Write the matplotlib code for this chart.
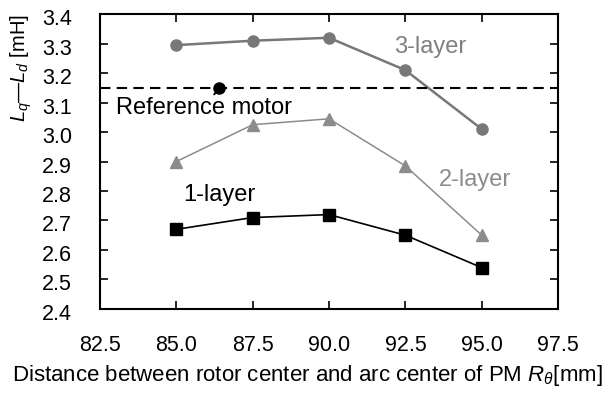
import matplotlib.pyplot as plt
import matplotlib.transforms as mtransforms

plt.rcParams['font.family'] = ['Liberation Sans', 'DejaVu Sans']
plt.rcParams['mathtext.fontset'] = 'custom'
plt.rcParams['mathtext.it'] = 'Liberation Sans:italic'
plt.rcParams['mathtext.rm'] = 'Liberation Sans'

# R_theta [mm] and Lq-Ld [mH] for each PM layer count
r_theta = [85.0, 87.5, 90.0, 92.5, 95.0]
lq_ld_3layer = [3.295, 3.31, 3.32, 3.21, 3.01]
lq_ld_2layer = [2.90, 3.025, 3.045, 2.885, 2.65]
lq_ld_1layer = [2.67, 2.71, 2.72, 2.65, 2.54]

ref_motor_x = 86.4
ref_motor_y = 3.15

x_ticks = [82.5, 85.0, 87.5, 90.0, 92.5, 95.0, 97.5]
y_ticks = [2.4, 2.5, 2.6, 2.7, 2.8, 2.9, 3.0, 3.1, 3.2, 3.3, 3.4]

fs_tick = 15.5
fs_note = 17

fig = plt.figure(figsize=(6.06, 3.94), dpi=100)
ax = fig.add_axes([0.165, 0.216, 0.756, 0.748])

ax.plot(r_theta, lq_ld_3layer, '-o', color='#787878', lw=1.8, ms=8)
ax.plot(r_theta, lq_ld_2layer, '-^', color='#8c8c8c', lw=1.1, ms=8)
ax.plot(r_theta, lq_ld_1layer, '-s', color='black', lw=1.2, ms=8)

ax.axhline(ref_motor_y, color='black', ls=(0, (5, 3)), lw=1.5)
ax.plot([ref_motor_x], [ref_motor_y], 'o', color='black', ms=8)
ax.annotate('Reference motor', xy=(ref_motor_x, ref_motor_y), xytext=(85.9, 3.081),
            ha='center', va='center', fontsize=fs_note,
            arrowprops=dict(arrowstyle='-', color='black', lw=1.4, shrinkA=9, shrinkB=0))

ax.text(93.31, 3.288, '3-layer', color='#808080', fontsize=fs_note, ha='center', va='center')
ax.text(94.77, 2.837, '2-layer', color='#8c8c8c', fontsize=fs_note, ha='center', va='center')
ax.text(86.4, 2.786, '1-layer', color='black', fontsize=fs_note, ha='center', va='center')

ax.set_xlim(82.5, 97.5)
ax.set_ylim(2.4, 3.4)
ax.set_xticks(x_ticks)
ax.set_xticklabels(['%.1f' % v for v in x_ticks])
ax.set_yticks(y_ticks)
ax.set_yticklabels(['%.1f' % v for v in y_ticks])
ax.tick_params(axis='x', direction='in', top=True, length=6, width=1.2, labelsize=fs_tick, pad=19)
ax.tick_params(axis='y', direction='in', right=True, length=6, width=1.2, labelsize=fs_tick, pad=20)
# y tick labels sit a little below their ticks
shift = mtransforms.ScaledTranslation(0, -3 / 100, fig.dpi_scale_trans)
for lbl in ax.get_yticklabels():
    lbl.set_transform(lbl.get_transform() + shift)
for s in ax.spines.values():
    s.set_linewidth(1.5)

ax.set_xlabel(r'Distance between rotor center and arc center of PM $R_\theta$[mm]', fontsize=16)
ax.xaxis.set_label_coords(0.452, -0.183)
ax.set_ylabel(r'$L_q$—$L_d$ [mH]', fontsize=14.5)
ax.yaxis.set_label_coords(-0.145, 0.817)

fig.savefig('out.png', dpi=100)
